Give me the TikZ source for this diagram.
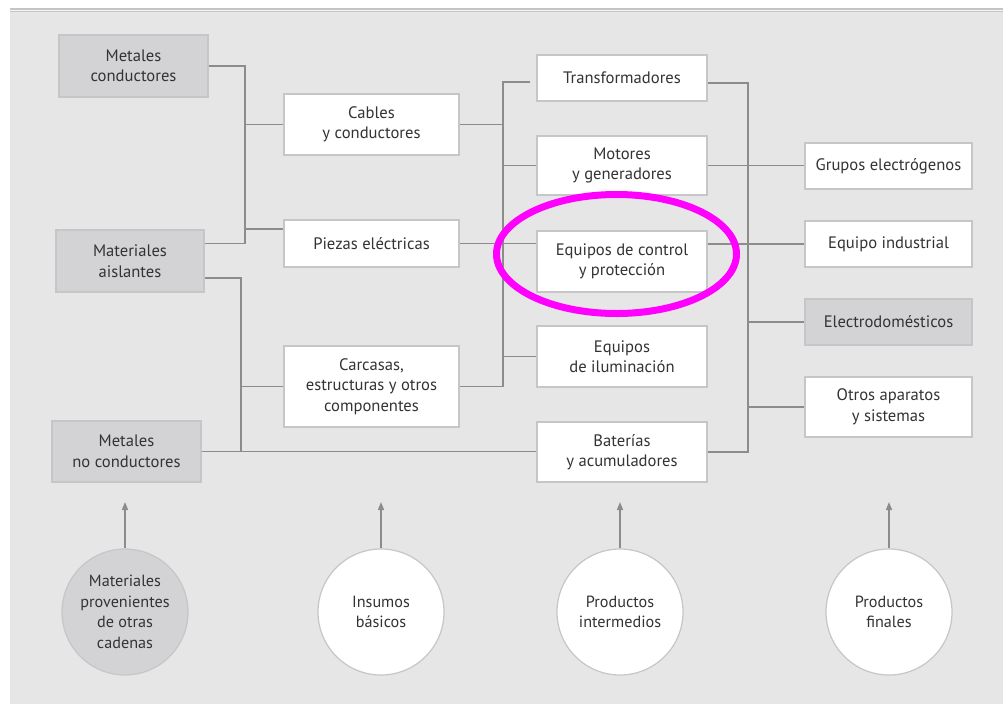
\documentclass[tikz,border=0pt]{standalone}
\usepackage{fontspec}
\setmainfont{PT Sans}
\usetikzlibrary{arrows.meta,calc}
\definecolor{bgpanel}{HTML}{E6E6E6}
\definecolor{topband}{HTML}{C4C4C4}
\definecolor{boxgray}{HTML}{D3D3D5}
\definecolor{boxline}{HTML}{C6C6C8}
\definecolor{wirecol}{HTML}{8C8C8C}
\definecolor{ink}{HTML}{333333}
\definecolor{hilite}{HTML}{FF00FF}
\begin{document}
\begin{tikzpicture}[x=1pt,y=-1pt,
  box/.style={draw=boxline,line width=1.4pt,fill=white,text=ink,align=center,
    inner sep=0pt,font=\fontsize{16.6}{20.5}\selectfont},
  shadedbox/.style={box,fill=boxgray},
  stage/.style={circle,draw=boxline,line width=1.2pt,fill=white,text=ink,align=center,
    inner sep=0pt,minimum size=126pt,font=\fontsize{16.2}{20.5}\selectfont},
  wire/.style={draw=wirecol,line width=1.4pt},
  uparrow/.style={draw=wirecol,line width=1.4pt,-{Triangle[length=8pt,width=6pt]}}
  ]
\useasboundingbox (0,0) rectangle (1003,704);
% panel and top rule
\fill[white] (0,0) rectangle (1003,704);
\fill[bgpanel] (10,12) rectangle (1003,704);
\fill[topband] (10,8) rectangle (1003,12);
\draw[white!85!topband,line width=0.8pt] (10,10) -- (1003,10);

% raw materials
\node[shadedbox,minimum width=149pt,minimum height=62pt] (mc) at (133.5,66) {Metales\\conductores};
\node[shadedbox,minimum width=148pt,minimum height=62pt] (ma) at (130,261) {Materiales\\aislantes};
\node[shadedbox,minimum width=149pt,minimum height=61pt] (mn) at (126.5,451.5) {Metales\\no conductores};

% basic inputs
\node[box,minimum width=175pt,minimum height=61pt] (cab) at (371.5,124.5) {Cables\\y conductores};
\node[box,minimum width=175pt,minimum height=47pt] (pie) at (371.5,243.5) {Piezas eléctricas};
\node[box,minimum width=175pt,minimum height=81pt] (car) at (371.5,386.5) {Carcasas,\\estructuras y otros\\componentes};

% intermediate products
\node[box,minimum width=170pt,minimum height=46pt] (tra) at (622,78) {Transformadores};
\node[box,minimum width=170pt,minimum height=59pt] (mot) at (622,165.5) {Motores\\y generadores};
\node[box,minimum width=170pt,minimum height=61pt] (ctl) at (622,261.5) {Equipos de control\\y protección};
\node[box,minimum width=170pt,minimum height=61pt] (ilu) at (622,356.5) {Equipos\\de iluminación};
\node[box,minimum width=170pt,minimum height=60pt] (bat) at (622,452) {Baterías\\y acumuladores};

% final products
\node[box,minimum width=167pt,minimum height=46pt] (gru) at (888.5,166) {Grupos electrógenos};
\node[box,minimum width=167pt,minimum height=46pt] (ind) at (888.5,244) {Equipo industrial};
\node[shadedbox,minimum width=167pt,minimum height=46pt] (ele) at (888.5,322) {Electrodomésticos};
\node[box,minimum width=167pt,minimum height=60pt] (otr) at (888.5,407) {Otros aparatos\\y sistemas};

% bus positions
\coordinate (j1) at (245,0);
\coordinate (j2) at (241,0);
\coordinate (j3) at (503,0);
\coordinate (j4) at (748,0);
\coordinate (maL) at ([yshift=-17pt]ma.east);
\coordinate (pieL) at ([yshift=14.5pt]pie.west);
\coordinate (traL) at ([xshift=-6pt,yshift=-4pt]tra.west);
\coordinate (traR) at ([yshift=-5pt]tra.east);

% raw materials -> basic inputs
\draw[wire] (mc.east) -| (j1 |- pie.east) -- (ma.east |- pie.east);
\draw[wire] (j1 |- cab.west) -- (cab.west);
\draw[wire] (j1 |- pieL) -- (pieL);
\draw[wire] (maL) -| (j2 |- mn.east);
\draw[wire] (j2 |- car.west) -- (car.west);
\draw[wire] (mn.east) -- (mn.east -| bat.west);

% basic inputs -> intermediate products
\draw[wire] (traL) -| (j3 |- car.east) -- (car.east);
\draw[wire] (cab.east) -- (j3 |- cab.east);
\draw[wire] (j3 |- mot.west) -- (mot.west);
\draw[wire] (pie.east) -- (pie.east -| ctl.west);
\draw[wire] (j3 |- ilu.west) -- (ilu.west);

% intermediate products -> final products
\draw[wire] (traR) -| (j4 |- bat.east) -- (bat.east);
\draw[wire] (mot.east) -- (mot.east -| gru.west);
\draw[wire] (ind.west -| ctl.east) -- (ind.west);
\draw[wire] (j4 |- ele.west) -- (ele.west);
\draw[wire] (j4 |- otr.west) -- (otr.west);

% stages of the chain
\node[stage,fill=boxgray] (s1) at (125,612) {Materiales\\provenientes\\de otras\\cadenas};
\node[stage] (s2) at (381,612) {Insumos\\básicos};
\node[stage] (s3) at (620,612) {Productos\\intermedios};
\node[stage] (s4) at (889,612) {Productos\\finales};
\coordinate (t1) at (125,502);
\coordinate (t2) at (381,502);
\coordinate (t3) at (620,502);
\coordinate (t4) at (889,502);
\draw[uparrow] (s1.north) -- (t1);
\draw[uparrow] (s2.north) -- (t2);
\draw[uparrow] (s3.north) -- (t3);
\draw[uparrow] (s4.north) -- (t4);

% highlight ring
\draw[hilite,line width=7pt] (616.5,254) ellipse [x radius=120, y radius=59.5];
\end{tikzpicture}
\end{document}
